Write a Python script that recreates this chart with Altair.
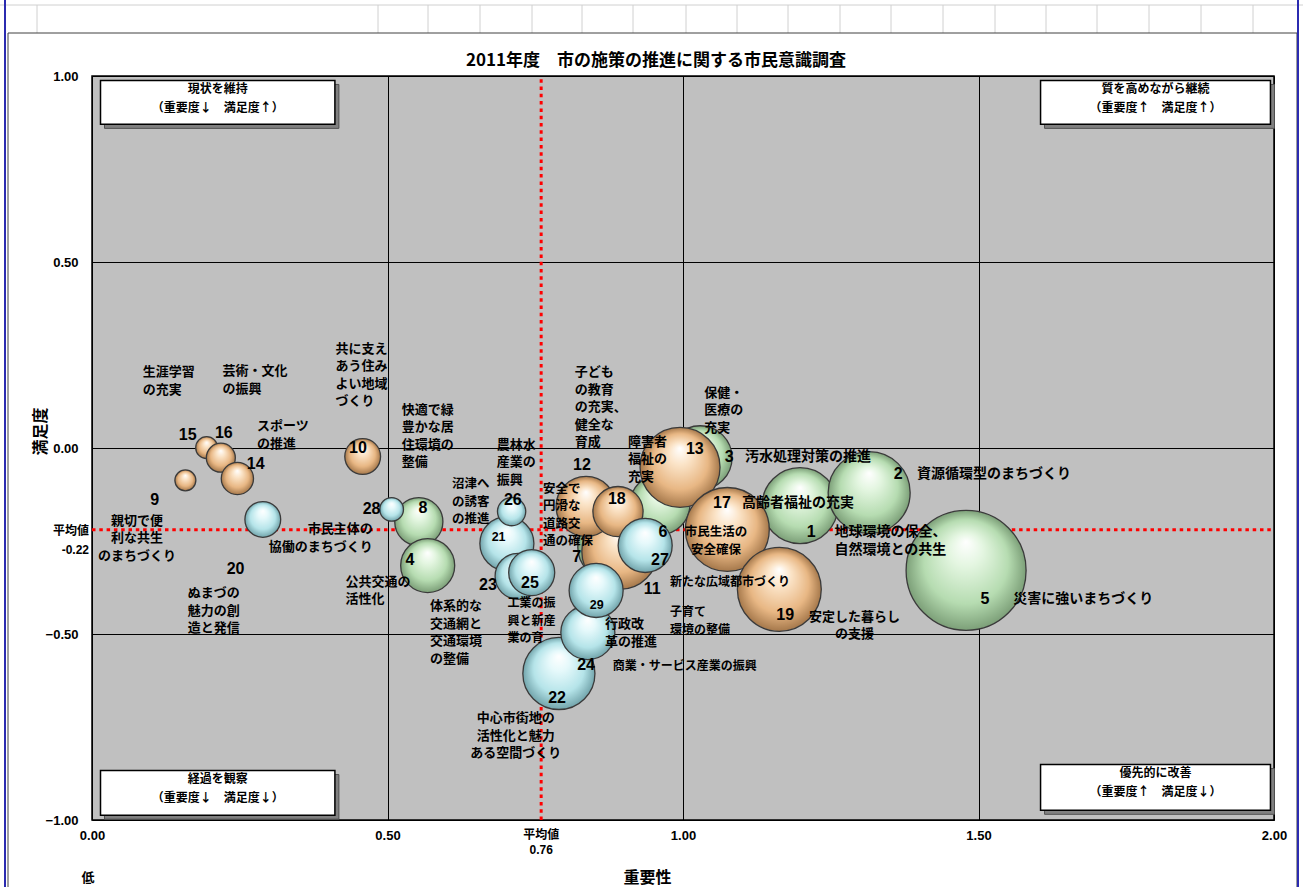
import altair as alt
import pandas as pd

# ---------------- data ----------------
item_no = list(range(1, 30))
policy_names = [
    "地球環境の保全、\n自然環境との共生", "資源循環型のまちづくり", "汚水処理対策の推進",
    "公共交通の\n活性化", "災害に強いまちづくり", "市民生活の\n安全確保",
    "安全で\n円滑な\n道路交\n通の確保", "快適で緑\n豊かな居\n住環境の\n整備",
    "親切で便\n利な共生\nのまちづくり", "共に支え\nあう住み\nよい地域\nづくり",
    "子育て\n環境の整備", "子ども\nの教育\nの充実、\n健全な\n育成", "保健・\n医療の\n充実",
    "スポーツ\nの推進", "生涯学習\nの充実", "芸術・文化\nの振興", "高齢者福祉の充実",
    "障害者\n福祉の\n充実", "安定した暮らし\nの支援",
    "ぬまづの\n魅力の創\n造と発信", "沼津へ\nの誘客\nの推進",
    "中心市街地の\n活性化と魅力\nある空間づくり", "体系的な\n交通網と\n交通環境\nの整備",
    "商業・サービス産業の振興", "工業の振\n興と新産\n業の育", "農林水\n産業の\n振興",
    "新たな広域都市づくり", "市民主体の\n協働のまちづくり", "行政改\n革の推進",
]
importance = [1.198, 1.315, 1.029, 0.568, 1.479, 0.961, 0.876, 0.553,
              0.158, 0.458, 0.893, 0.836, 0.995, 0.246, 0.194, 0.218, 1.075, 0.890, 1.163,
              0.289, 0.702, 0.790, 0.721, 0.839, 0.744, 0.710, 0.936, 0.507, 0.853]
satisfaction = [-0.155, -0.120, -0.026, -0.316, -0.329, -0.152, -0.267, -0.198,
                -0.087, -0.023, -0.278, -0.157, -0.052, -0.082, 0.001, -0.026, -0.219, -0.171, -0.380,
                -0.192, -0.257, -0.606, -0.345, -0.496, -0.335, -0.171, -0.262, -0.165, -0.383]
bubble_size = [14.4, 16.8, 10.2, 7.3, 36.0, 9.0, 10.2, 5.8,
               1.1, 3.2, 14.4, 9.0, 16.0, 2.6, 1.2, 2.1, 17.6, 6.3, 17.6,
               3.2, 7.3, 13.0, 5.3, 7.3, 5.3, 2.0, 7.3, 1.4, 7.3]
field_group = ["green"] * 8 + ["orange"] * 11 + ["blue"] * 10
draw_order = [1, 2, 3, 5, 6, 7, 8, 4, 9, 10, 11, 12, 13, 15, 16, 14, 17, 18, 19,
              20, 21, 22, 23, 24, 25, 26, 27, 28, 29]

mean_importance = 0.76
mean_satisfaction = -0.22
x_ticks = [0.0, 0.5, 1.0, 1.5, 2.0]
y_ticks = [-1.0, -0.5, 0.0, 0.5, 1.0]

quadrant_names = ["現状を維持\n（重要度↓　満足度↑）", "質を高めながら継続\n（重要度↑　満足度↑）",
                  "経過を観察\n（重要度↓　満足度↓）", "優先的に改善\n（重要度↑　満足度↓）"]

# ---------------- label layout (data units; y = first text line) ----------------
num_label_x = [1.217, 1.364, 1.078, 0.538, 1.511, 0.966, 0.820, 0.560,
               0.106, 0.450, 0.948, 0.829, 1.020, 0.277, 0.162, 0.223, 1.066, 0.888, 1.173,
               0.243, 0.688, 0.787, 0.670, 0.836, 0.741, 0.712, 0.961, 0.473, 0.854]
num_label_y = [-0.227, -0.071, -0.023, -0.300, -0.405, -0.227, -0.292, -0.160,
               -0.141, 0.001, -0.380, -0.047, -0.004, -0.044, 0.034, 0.039, -0.147, -0.136, -0.450,
               -0.324, -0.238, -0.671, -0.367, -0.582, -0.362, -0.141, -0.300, -0.163, -0.421]
num_label_size = [16] * 20 + [12.5] + [16] * 7 + [12.5]

name_label_x = [1.351, 1.396, 1.105, 0.429, 1.559, 1.056, 0.763, 0.524,
                0.076, 0.412, 0.978, 0.817, 1.036, 0.279, 0.086, 0.221, 1.100, 0.907, 1.290,
                0.206, 0.609, 0.717, 0.572, 0.881, 0.703, 0.685, 0.978, 0.475, 0.868]
name_label_y = [-0.227, -0.071, -0.023, -0.359, -0.407, -0.227, -0.109, 0.103,
                -0.195, 0.267, -0.442, 0.203, 0.149, 0.058, 0.203, 0.206, -0.147, 0.017, -0.453,
                -0.391, -0.098, -0.727, -0.426, -0.585, -0.418, 0.009, -0.359, -0.219, -0.474]
name_label_align = ["center", "left", "left", "left", "left", "center", "left", "left",
                    "center", "left", "left", "left", "left", "left", "left", "left", "left", "left", "center",
                    "center", "left", "center", "left", "left", "left", "left", "left", "right", "left"]
name_label_size = [14, 14, 14, 13, 14, 12.5, 12.5, 13,
                   13, 13, 12, 13, 13, 13, 13, 13, 14, 13, 13,
                   13, 12.5, 13, 13, 12, 12, 13, 12, 13, 13]

quad_x1 = [0.0144, 1.605, 0.0144, 1.605]
quad_x2 = [0.411, 1.994, 0.411, 1.994]
quad_top = [0.988, 0.988, -0.867, -0.851]
quad_bottom = [0.870, 0.870, -0.987, -0.974]

# ---------------- tables ----------------
bubbles = pd.DataFrame({
    "no": item_no, "imp": importance, "sat": satisfaction,
    "bsize": bubble_size, "grp": field_group,
    "z": [draw_order.index(n) for n in item_no],
}).sort_values("z")

numbers = pd.DataFrame({"imp": num_label_x, "sat": num_label_y,
                        "txt": [str(n) for n in item_no], "fs": num_label_size})
names = pd.DataFrame({"imp": name_label_x, "sat": name_label_y, "txt": policy_names,
                      "al": name_label_align, "fs": name_label_size})
quads = pd.DataFrame({"x1": quad_x1, "x2": quad_x2, "top": quad_top, "bottom": quad_bottom,
                      "txt": quadrant_names})
quads["cx"] = (quads["x1"] + quads["x2"]) / 2

JP = "Noto Sans CJK JP"
NUM = "Liberation Sans"

xs = alt.Scale(domain=[0, 2], nice=False, zero=False)
ys = alt.Scale(domain=[-1, 1], nice=False, zero=False)

x_axis = alt.Axis(values=x_ticks, format=".2f", title="重要性", grid=True, ticks=False, domain=False,
                  labelFlush=False, labelOverlap=False, labelPadding=9,
                  labelFont=NUM, labelFontWeight="bold", labelFontSize=13, labelColor="black",
                  gridColor="black", gridWidth=1, gridOpacity=1,
                  titleX=555, titleY=57, titleBaseline="middle", titleFont=JP,
                  titleFontSize=16, titleFontWeight="bold", titleColor="black")
y_axis = alt.Axis(values=y_ticks, format=".2f", title="満足度", grid=True, ticks=False, domain=False,
                  labelFlush=False, labelOverlap=False, labelPadding=14,
                  labelFont=NUM, labelFontWeight="bold", labelFontSize=13, labelColor="black",
                  gridColor="black", gridWidth=1, gridOpacity=1,
                  titleX=-52, titleY=355, titleAngle=270, titleBaseline="middle", titleFont=JP,
                  titleFontSize=16, titleFontWeight="bold", titleColor="black")


def X(f):
    return alt.X(f, type="quantitative", scale=xs, axis=x_axis)


def Y(f):
    return alt.Y(f, type="quantitative", scale=ys, axis=y_axis)


# ---------------- average lines (drawn below the bubbles) ----------------
vline = alt.Chart(pd.DataFrame({"imp": [mean_importance], "sat": [-1.0], "s2": [1.0]})).mark_rule(
    color="#ff0000", strokeWidth=3, strokeDash=[3.5, 3.8]
).encode(x=X("imp"), y=Y("sat"), y2="s2:Q")
hline = alt.Chart(pd.DataFrame({"sat": [mean_satisfaction], "imp": [0.0], "i2": [2.0]})).mark_rule(
    color="#ff0000", strokeWidth=3, strokeDash=[3.5, 3.8]
).encode(y=Y("sat"), x=X("imp"), x2="i2:Q")


# ---------------- bubbles ----------------
def ball(light, base, edge):
    return alt.RadialGradient(
        gradient="radial", x1=0.5, y1=0.26, r1=0.0, x2=0.5, y2=0.5, r2=0.5,
        stops=[alt.GradientStop(offset=0.0, color="#ffffff"),
               alt.GradientStop(offset=0.28, color=light),
               alt.GradientStop(offset=0.7, color=base),
               alt.GradientStop(offset=1.0, color=edge)])


palette = {
    "green": ball("#e4f6e1", "#b6dcb1", "#7c9f78"),
    "orange": ball("#fbe4c8", "#e8b784", "#a5784b"),
    "blue": ball("#e6f9fb", "#b5e4e9", "#72a4ab"),
}

bubble_layers = []
for g in ["green", "orange", "blue"]:
    bubble_layers.append(
        alt.Chart(bubbles).transform_filter(alt.datum.grp == g).mark_circle(
            fill=palette[g], opacity=1, stroke="#3a3a3a", strokeWidth=1.3
        ).encode(
            x=X("imp"), y=Y("sat"),
            size=alt.Size("bsize:Q", scale=alt.Scale(domain=[0, 36], range=[0, 14400]), legend=None),
        )
    )

# ---------------- labels ----------------
num_text = alt.Chart(numbers).mark_text(font=NUM, fontWeight="bold", align="center",
                                        baseline="middle", color="black").encode(
    x=X("imp"), y=Y("sat"), text="txt:N", size=alt.Size("fs:Q", scale=None))

name_layers = []
for a in ["left", "center", "right"]:
    name_layers.append(
        alt.Chart(names).transform_filter(alt.datum.al == a).mark_text(
            font=JP, fontWeight="bold", align=a, baseline="middle", lineBreak="\n",
            lineHeight=17.5, color="black"
        ).encode(x=X("imp"), y=Y("sat"), text="txt:N", size=alt.Size("fs:Q", scale=None))
    )

mean_x_lab = alt.Chart(pd.DataFrame({"imp": [mean_importance], "sat": [-1.0],
                                     "txt": ["平均値\n%.2f" % mean_importance]})).mark_text(
    font=NUM + ", " + JP, fontWeight="bold", fontSize=12, align="center", baseline="top",
    lineBreak="\n", lineHeight=15, dy=10, color="black"
).encode(x=X("imp"), y=Y("sat"), text="txt:N")
mean_y_lab = alt.Chart(pd.DataFrame({"imp": [0.0], "sat": [mean_satisfaction],
                                     "txt": ["平均値\n%.2f" % mean_satisfaction]})).mark_text(
    font=NUM + ", " + JP, fontWeight="bold", fontSize=12, align="right", baseline="middle",
    lineBreak="\n", lineHeight=19, dx=-3, dy=1, color="black"
).encode(x=X("imp"), y=Y("sat"), text="txt:N")

# ---------------- quadrant boxes ----------------
quad_shadow = alt.Chart(quads).mark_rect(
    fill="#808080", stroke="#505050", strokeWidth=1, xOffset=4, x2Offset=4, yOffset=4, y2Offset=4
).encode(x=X("x1"), x2="x2:Q", y=Y("top"), y2="bottom:Q")
quad_box = alt.Chart(quads).mark_rect(fill="white", stroke="black", strokeWidth=1.5).encode(
    x=X("x1"), x2="x2:Q", y=Y("top"), y2="bottom:Q")
quad_text = alt.Chart(quads).mark_text(
    font=JP, fontWeight="bold", fontSize=12, align="center", baseline="top",
    lineBreak="\n", lineHeight=19, dy=3.5, color="black"
).encode(x=X("cx"), y=Y("top"), text="txt:N")

# ---------------- page decoration (pixels, relative to plot origin) ----------------
dummy = pd.DataFrame({"d": [0]})
sheet_col_px = [37, 378, 428, 480, 532, 582, 633, 686, 737, 788,
                840, 891, 943, 995, 1046, 1097, 1149, 1201, 1253]
sheet_lines = [
    alt.Chart(dummy).mark_rule(color="#d0d0d0", strokeWidth=1).encode(
        x=alt.value(p - 92), y=alt.value(-71), y2=alt.value(-43))
    for p in sheet_col_px
]
sheet_row = alt.Chart(dummy).mark_rule(color="#d0d0d0", strokeWidth=1).encode(
    x=alt.value(-92), x2=alt.value(1211), y=alt.value(-71))
frame = alt.Chart(dummy).mark_rect(fillOpacity=0, stroke="#404040", strokeWidth=1).encode(
    x=alt.value(-84), x2=alt.value(1205), y=alt.value(-43), y2=alt.value(830))
blue_l = alt.Chart(dummy).mark_rule(color="#2b2bb0", strokeWidth=2).encode(
    x=alt.value(-87), y=alt.value(-76), y2=alt.value(811))
blue_r = alt.Chart(dummy).mark_rule(color="#2b2bb0", strokeWidth=2).encode(
    x=alt.value(1206), y=alt.value(-76), y2=alt.value(811))
title = alt.Chart(dummy).mark_text(
    text="2011年度　市の施策の推進に関する市民意識調査", font=JP, fontWeight="bold", fontSize=17,
    align="center", baseline="middle", color="black"
).encode(x=alt.value(564), y=alt.value(-15))
low = alt.Chart(dummy).mark_text(text="低", font=JP, fontWeight="bold", fontSize=13,
                                 align="center", baseline="middle", color="black").encode(
    x=alt.value(-4), y=alt.value(802))

chart = alt.layer(
    vline, hline, *bubble_layers, num_text, *name_layers, mean_x_lab, mean_y_lab,
    quad_shadow, quad_box, quad_text,
    *sheet_lines, sheet_row, frame, blue_l, blue_r, title, low,
).properties(
    width=1182, height=744,
    padding={"left": 92, "top": 76, "right": 29, "bottom": 67},
    autosize=alt.AutoSizeParams(type="none"),
    background="white",
).configure_view(
    fill="#c0c0c0", stroke="black", strokeWidth=1.5
)

chart.save("out.html", embed_options={"renderer": "svg", "actions": False})
